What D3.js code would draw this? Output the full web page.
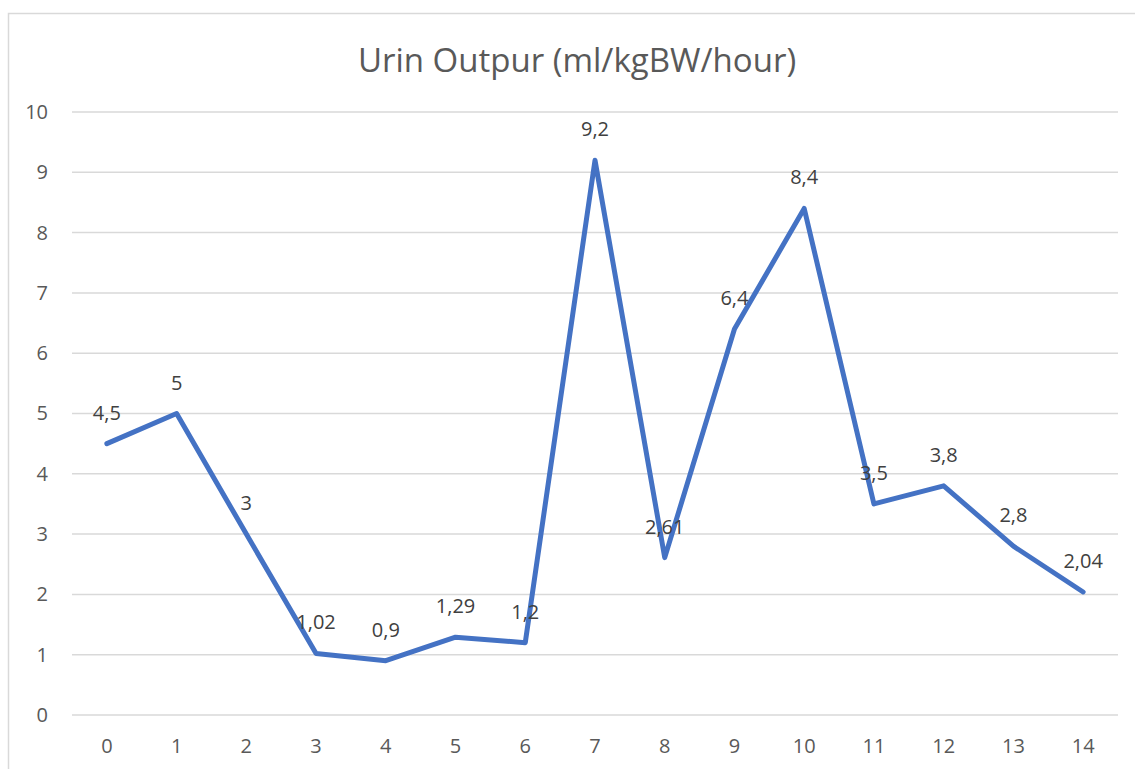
<!DOCTYPE html>
<html>
<head>
<meta charset="utf-8">
<script src="https://cdn.jsdelivr.net/npm/d3@7"></script>
<style>
  body { margin: 0; background: #fff; }
  text { font-family: "Open Sans", "Liberation Sans", sans-serif; }
</style>
</head>
<body>
<svg id="chart" width="1135" height="769"></svg>
<script>
var categories = ["0","1","2","3","4","5","6","7","8","9","10","11","12","13","14"];
var values = [4.5, 5, 3, 1.02, 0.9, 1.29, 1.2, 9.2, 2.61, 6.4, 8.4, 3.5, 3.8, 2.8, 2.04];
var labels = ["4,5","5","3","1,02","0,9","1,29","1,2","9,2","2,61","6,4","8,4","3,5","3,8","2,8","2,04"];
var yTicks = [0,1,2,3,4,5,6,7,8,9,10];
var title = "Urin Outpur (ml/kgBW/hour)";

var svg = d3.select("#chart"),
    margin = {top: 112, right: 17, bottom: 54, left: 72},
    width = +svg.attr("width") - margin.left - margin.right,
    height = +svg.attr("height") - margin.top - margin.bottom;

// chart area border (top + left visible)
svg.append("path")
    .attr("d", "M8.5,769 L8.5,13.5 L1135,13.5")
    .attr("fill", "none")
    .attr("stroke", "#d9d9d9")
    .attr("stroke-width", 1.5);

svg.append("text")
    .attr("x", 577)
    .attr("y", 72)
    .attr("text-anchor", "middle")
    .attr("fill", "#595959")
    .style("font-size", "33px")
    .text(title);

var g = svg.append("g").attr("transform", "translate(" + margin.left + "," + margin.top + ")");

var x = d3.scaleBand().domain(categories).range([0, width]);
var y = d3.scaleLinear().domain([0, 10]).range([height, 0]);

// gridlines
g.selectAll(".grid")
    .data(yTicks)
    .enter().append("line")
    .attr("class", "grid")
    .attr("x1", 0).attr("x2", width)
    .attr("y1", function(d) { return y(d); })
    .attr("y2", function(d) { return y(d); })
    .attr("stroke", "#d9d9d9")
    .attr("stroke-width", 1.5);

var yAxis = g.append("g")
    .call(d3.axisLeft(y).tickValues(yTicks).tickSize(0).tickPadding(24));
yAxis.select(".domain").remove();
yAxis.selectAll("text").attr("fill", "#595959").style("font-size", "20px");

var xAxis = g.append("g")
    .attr("transform", "translate(0," + height + ")")
    .call(d3.axisBottom(x).tickSize(0).tickPadding(24));
xAxis.select(".domain").remove();
xAxis.selectAll("text").attr("fill", "#595959").style("font-size", "20px");

var line = d3.line()
    .x(function(d, i) { return x(categories[i]) + x.bandwidth() / 2; })
    .y(function(d) { return y(d); });

g.append("path")
    .datum(values)
    .attr("d", line)
    .attr("fill", "none")
    .attr("stroke", "#4472c4")
    .attr("stroke-width", 5)
    .attr("stroke-linejoin", "round")
    .attr("stroke-linecap", "round");

g.selectAll(".lbl")
    .data(values)
    .enter().append("text")
    .attr("class", "lbl")
    .attr("x", function(d, i) { return x(categories[i]) + x.bandwidth() / 2; })
    .attr("y", function(d) { return y(d) - 24; })
    .attr("text-anchor", "middle")
    .attr("fill", "#404040")
    .style("font-size", "20px")
    .text(function(d, i) { return labels[i]; });
</script>
</body>
</html>
